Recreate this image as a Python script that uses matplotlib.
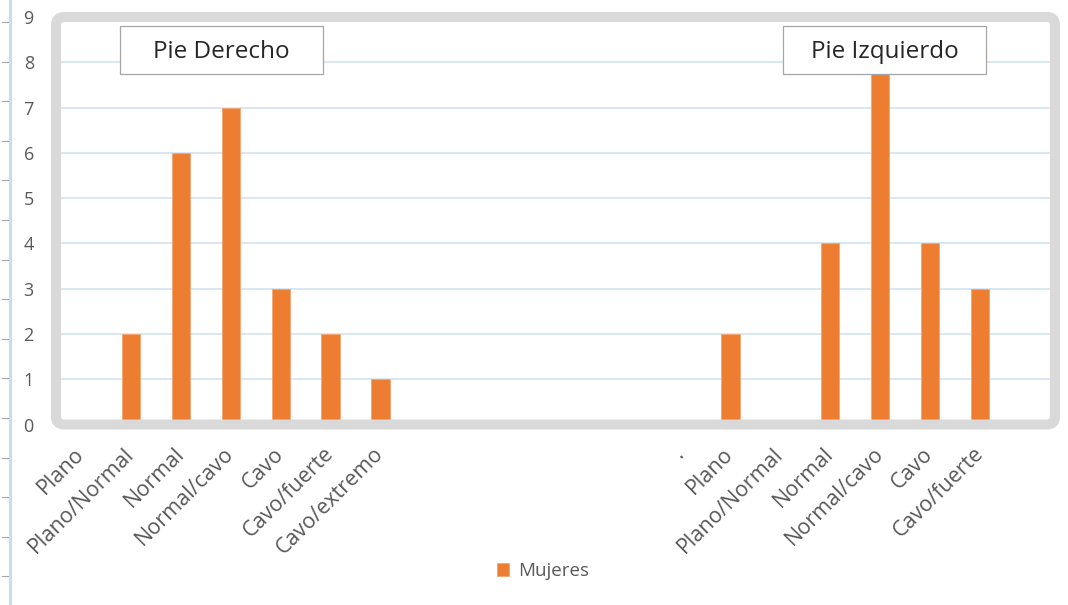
import numpy as np
import matplotlib
matplotlib.use("Agg")
from matplotlib import pyplot as plt
from matplotlib.patches import FancyBboxPatch
from matplotlib.lines import Line2D

plt.rcParams['font.family'] = ['Open Sans', 'DejaVu Sans']

# categories along the x axis (right foot block after a few empty slots)
categorias = ["Plano", "Plano/Normal", "Normal", "Normal/cavo", "Cavo",
              "Cavo/fuerte", "Cavo/extremo",
              "", "", "", "", "",
              ".", "Plano", "Plano/Normal", "Normal", "Normal/cavo", "Cavo",
              "Cavo/fuerte", ""]
mujeres = [0, 2, 6, 7, 3, 2, 1,
           None, None, None, None, None,
           0, 2, 0, 4, 8, 4, 3, None]
yticks = list(range(0, 10))

NARANJA = "#ED7D31"
GRIS_TXT = "#595959"

fig = plt.figure(figsize=(10.68, 6.05), dpi=100)
W, H = 1068, 605
ax = fig.add_axes([56 / W, 1 - 424.5 / H, 999 / W, 407.5 / H])

x = np.arange(len(categorias))
alturas = np.array([np.nan if v is None else v for v in mujeres], dtype=float)
ax.bar(x, alturas, width=0.37, color=NARANJA, edgecolor="#F4A672",
       linewidth=0.6, zorder=3, label="Mujeres")

ax.set_xlim(-0.5, len(categorias) - 0.5)
ax.set_ylim(0, 9)
ax.set_yticks(yticks)
ax.yaxis.grid(True, color="#D6E4F2", linewidth=1.3, zorder=0)
ax.set_axisbelow(True)
for s in ax.spines.values():
    s.set_visible(False)

ax.set_xticks(x)
ax.set_xticklabels(categorias, rotation=45, ha="right", va="center",
                   rotation_mode="anchor", fontsize=15.5, color=GRIS_TXT)
ax.tick_params(axis="x", length=0, pad=19)
ax.tick_params(axis="y", length=0, pad=16, labelsize=13, labelcolor=GRIS_TXT)

# thick grey rounded frame around the plot area
marco = FancyBboxPatch((0, 0), 1, 1, boxstyle="round,pad=0,rounding_size=0.008",
                       transform=ax.transAxes, facecolor="none",
                       edgecolor="#D9D9D9", linewidth=7.2, clip_on=False,
                       zorder=5, mutation_aspect=2.4)
ax.add_patch(marco)

# foot titles
def caja(x0, x1, texto):
    ax.add_patch(FancyBboxPatch((x0 / W, 1 - 74 / H), (x1 - x0) / W, 48 / H,
                                boxstyle="square,pad=0", transform=fig.transFigure,
                                facecolor="white", edgecolor="#A6A6A6",
                                linewidth=0.9, clip_on=False, zorder=6))
    fig.text((x0 + x1) / 2 / W, 1 - 52 / H, texto, ha="center", va="center",
             fontsize=17.5, color="#262626", zorder=7)

caja(120, 323, "Pie Derecho")
caja(783, 986, "Pie Izquierdo")

fig.legend(loc="center", bbox_to_anchor=(543 / W, 1 - 571 / H), frameon=False,
           fontsize=13.5, handlelength=0.65, handleheight=0.65, handletextpad=0.45,
           labelcolor=GRIS_TXT)

# ruler strip on the left edge
fig.add_artist(Line2D([10 / W, 10 / W], [0, 1], transform=fig.transFigure,
                      color="#C9DDF1", linewidth=2.2))
for yy in np.arange(22, 605, 39.6):
    fig.add_artist(Line2D([2 / W, 8 / W], [1 - yy / H, 1 - yy / H],
                          transform=fig.transFigure, color="#A6A6A6",
                          linewidth=0.8))

fig.savefig("out.png", dpi=100)
